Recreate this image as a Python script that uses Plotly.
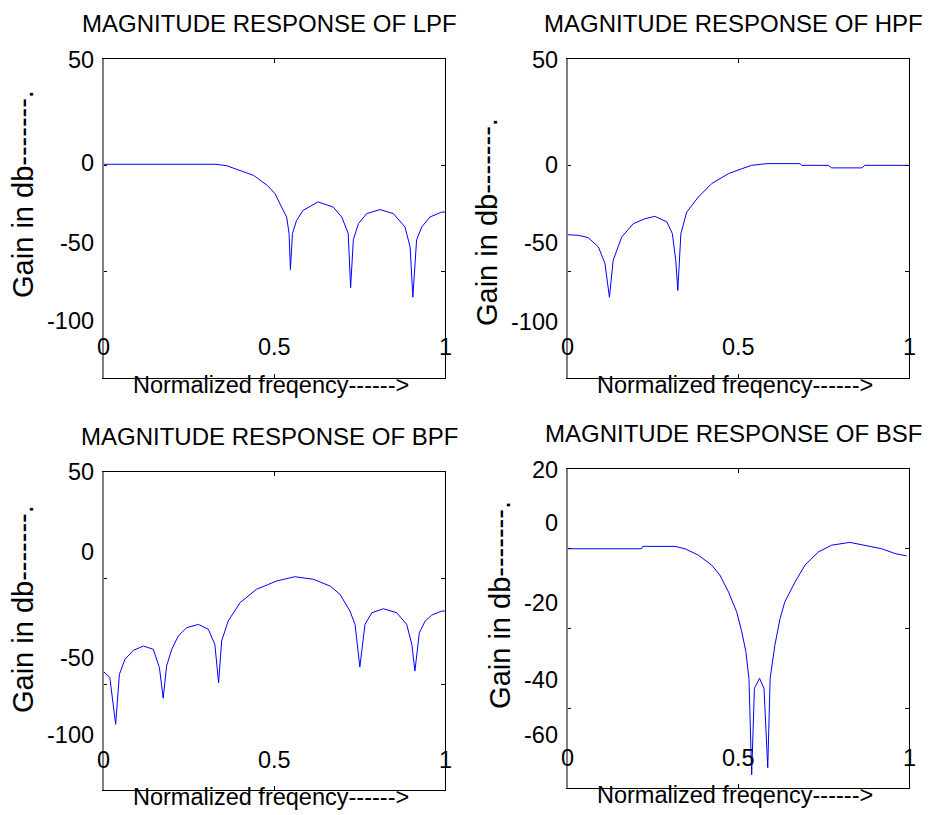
import plotly.graph_objects as go

W, H = 930, 815

# ---------------- data ----------------
lpf_f = [0.0, 0.33, 0.362, 0.391, 0.44, 0.48, 0.503, 0.522, 0.537, 0.544, 0.548, 0.554, 0.566,
         0.585, 0.629, 0.673, 0.698, 0.717, 0.724, 0.732, 0.747, 0.771, 0.81, 0.849, 0.883,
         0.898, 0.906, 0.917, 0.932, 0.956, 0.99, 1.0]
lpf_db = [0.5, 0.5, -0.2, -1.9, -4.7, -9.4, -13.3, -19.6, -24.3, -32.0, -49.0, -32.0, -25.9,
          -21.2, -17.2, -19.6, -24.3, -32.0, -57.5, -35.0, -27.4, -22.7, -20.8, -22.7, -29.0,
          -38.4, -62.0, -35.0, -29.0, -24.3, -22.0, -22.0]

hpf_f = [0.0, 0.033, 0.062, 0.092, 0.111, 0.124, 0.135, 0.16, 0.194, 0.228, 0.257, 0.292,
         0.308, 0.318, 0.324, 0.333, 0.35, 0.384, 0.423, 0.472, 0.511, 0.54, 0.584, 0.681,
         0.686, 0.764, 0.774, 0.862, 0.871, 1.0]
hpf_db = [-32.6, -32.9, -34.0, -38.4, -46.2, -62.0, -44.7, -33.7, -27.4, -25.1, -24.0, -26.6,
          -32.1, -44.7, -58.8, -32.1, -22.0, -14.9, -8.6, -3.9, -1.6, 0.0, 0.8, 0.8,
          0.0, 0.0, -1.2, -1.2, 0.0, 0.0]

bpf_f = [0.0, 0.02, 0.037, 0.048, 0.064, 0.089, 0.118, 0.147, 0.165, 0.176, 0.186, 0.201,
         0.22, 0.245, 0.279, 0.308, 0.327, 0.338, 0.347, 0.366, 0.401, 0.449, 0.508, 0.561,
         0.615, 0.664, 0.693, 0.722, 0.737, 0.751, 0.766, 0.786, 0.82, 0.859, 0.888, 0.903,
         0.912, 0.925, 0.942, 0.961, 0.99, 1.0]
bpf_db = [-43.9, -47.0, -69.0, -45.4, -38.4, -34.1, -32.1, -33.6, -42.3, -56.7, -41.5, -33.6,
          -27.4, -23.4, -21.9, -24.2, -31.3, -49.4, -29.7, -20.3, -11.6, -5.3, -1.4, 0.6,
          -0.6, -3.8, -7.7, -15.6, -21.9, -42.0, -21.9, -16.4, -14.5, -16.4, -21.9, -31.3,
          -43.9, -25.8, -20.3, -17.5, -15.6, -15.6]

bsf_f = [0.0, 0.218, 0.222, 0.316, 0.345, 0.384, 0.423, 0.447, 0.472, 0.496, 0.511, 0.523,
         0.532, 0.54, 0.548, 0.563, 0.576, 0.587, 0.594, 0.608, 0.623, 0.637, 0.667, 0.696,
         0.735, 0.774, 0.827, 0.871, 0.92, 0.959, 0.993]
bsf_db = [0.0, 0.0, 0.6, 0.6, 0.0, -1.6, -4.1, -6.6, -10.8, -15.8, -20.8, -25.8,
          -32.5, -56.7, -35.0, -32.5, -35.0, -54.9, -32.5, -24.1, -17.5, -13.3, -8.3, -4.1,
          -0.8, 0.9, 1.6, 0.9, 0.0, -1.2, -1.8]

titles = ["MAGNITUDE RESPONSE OF LPF", "MAGNITUDE RESPONSE OF HPF",
          "MAGNITUDE RESPONSE OF BPF", "MAGNITUDE RESPONSE OF BSF"]
x_label = "Normalized freqency------>"
y_label = "Gain in db-------."
x_tick_vals = [0, 0.5, 1]
x_tick_text = ["0", "0.5", "1"]
y_ticks_wide = [50, 0, -50, -100]
y_ticks_bsf = [20, 0, -20, -40, -60]

# ---------------- layout (pixel boxes & label placement) ----------------
panels = [
    dict(f=lpf_f, d=lpf_db, box=(103, 445, 59, 378), yr=(-100, 50), yt=y_ticks_wide,
         ylf=[0.997, 0.674, 0.423, 0.179], yl=(0.577, -80), xlf=0.097),
    dict(f=hpf_f, d=hpf_db, box=(567, 909, 59, 378), yr=(-100, 50), yt=y_ticks_wide,
         ylf=[0.997, 0.668, 0.423, 0.176], yl=(0.489, -80), xlf=0.097),
    dict(f=bpf_f, d=bpf_db, box=(103, 445, 472, 790), yr=(-100, 50), yt=y_ticks_wide,
         ylf=[1.0, 0.748, 0.415, 0.173], yl=(0.569, -80), xlf=0.094),
    dict(f=bsf_f, d=bsf_db, box=(567, 909, 469, 788), yr=(-60, 20), yt=y_ticks_bsf,
         ylf=[0.997, 0.831, 0.580, 0.339, 0.166], yl=(0.574, -67), xlf=0.094),
]

SANS = "Liberation Sans, Arial, sans-serif"

fig = go.Figure()
annotations = []
shapes = []
layout_axes = {}

for i, p in enumerate(panels, start=1):
    l, r, t, b = p["box"]
    xa = "x" if i == 1 else f"x{i}"
    ya = "y" if i == 1 else f"y{i}"
    xkey = "xaxis" if i == 1 else f"xaxis{i}"
    ykey = "yaxis" if i == 1 else f"yaxis{i}"
    fig.add_trace(go.Scatter(x=p["f"], y=p["d"], mode="lines", xaxis=xa, yaxis=ya,
                             line=dict(color="#0000ff", width=1), showlegend=False,
                             hoverinfo="skip"))
    layout_axes[xkey] = dict(domain=[l / W, r / W], anchor=ya, range=[0, 1],
                             tickvals=x_tick_vals, ticks="inside", ticklen=4,
                             tickcolor="black", showticklabels=False, showline=True,
                             linecolor="black", linewidth=1, mirror="ticks",
                             showgrid=False, zeroline=False, fixedrange=True)
    layout_axes[ykey] = dict(domain=[1 - b / H, 1 - t / H], anchor=xa, range=list(p["yr"]),
                             tickvals=p["yt"], ticks="inside", ticklen=4,
                             tickcolor="black", showticklabels=False, showline=True,
                             linecolor="black", linewidth=1, mirror="ticks",
                             showgrid=False, zeroline=False, fixedrange=True)
    xd = f"{xa} domain"
    yd = f"{ya} domain"
    # grey left edge
    shapes.append(dict(type="line", xref=xd, yref=yd, x0=0, x1=0, y0=0, y1=1,
                       line=dict(color="#808080", width=2), layer="above"))
    # title
    annotations.append(dict(text=titles[i - 1], xref=xd, yref=yd, x=0.488, y=1,
                            yshift=36, xanchor="center", yanchor="middle", showarrow=False,
                            font=dict(family=SANS, size=24, color="black")))
    # y tick labels
    for val, fr in zip(p["yt"], p["ylf"]):
        annotations.append(dict(text=str(val), xref=xd, yref=yd, x=0, y=fr, xshift=-7,
                                xanchor="right", yanchor="middle", showarrow=False,
                                font=dict(family=SANS, size=23.5, color="black")))
    # x tick labels
    for val, txt in zip(x_tick_vals, x_tick_text):
        annotations.append(dict(text=txt, xref=xa, yref=yd, x=val, y=p["xlf"],
                                xanchor="center", yanchor="middle", showarrow=False,
                                font=dict(family=SANS, size=23.5, color="black")))
    # x label
    annotations.append(dict(text=x_label, xref=xd, yref=yd, x=0.49, y=0, yshift=-7,
                            xanchor="center", yanchor="middle", showarrow=False,
                            font=dict(family=SANS, size=23.5, color="black")))
    # y label
    annotations.append(dict(text=y_label, xref=xd, yref=yd, x=0, y=p["yl"][0],
                            xshift=p["yl"][1], xanchor="center", yanchor="middle",
                            textangle=-90, showarrow=False,
                            font=dict(family=SANS, size=29, color="black")))

fig.update_layout(width=W, height=H, autosize=False,
                  margin=dict(l=0, r=0, t=0, b=0, pad=0),
                  paper_bgcolor="white", plot_bgcolor="white",
                  annotations=annotations, shapes=shapes, **layout_axes)

fig.write_html("out.html")
